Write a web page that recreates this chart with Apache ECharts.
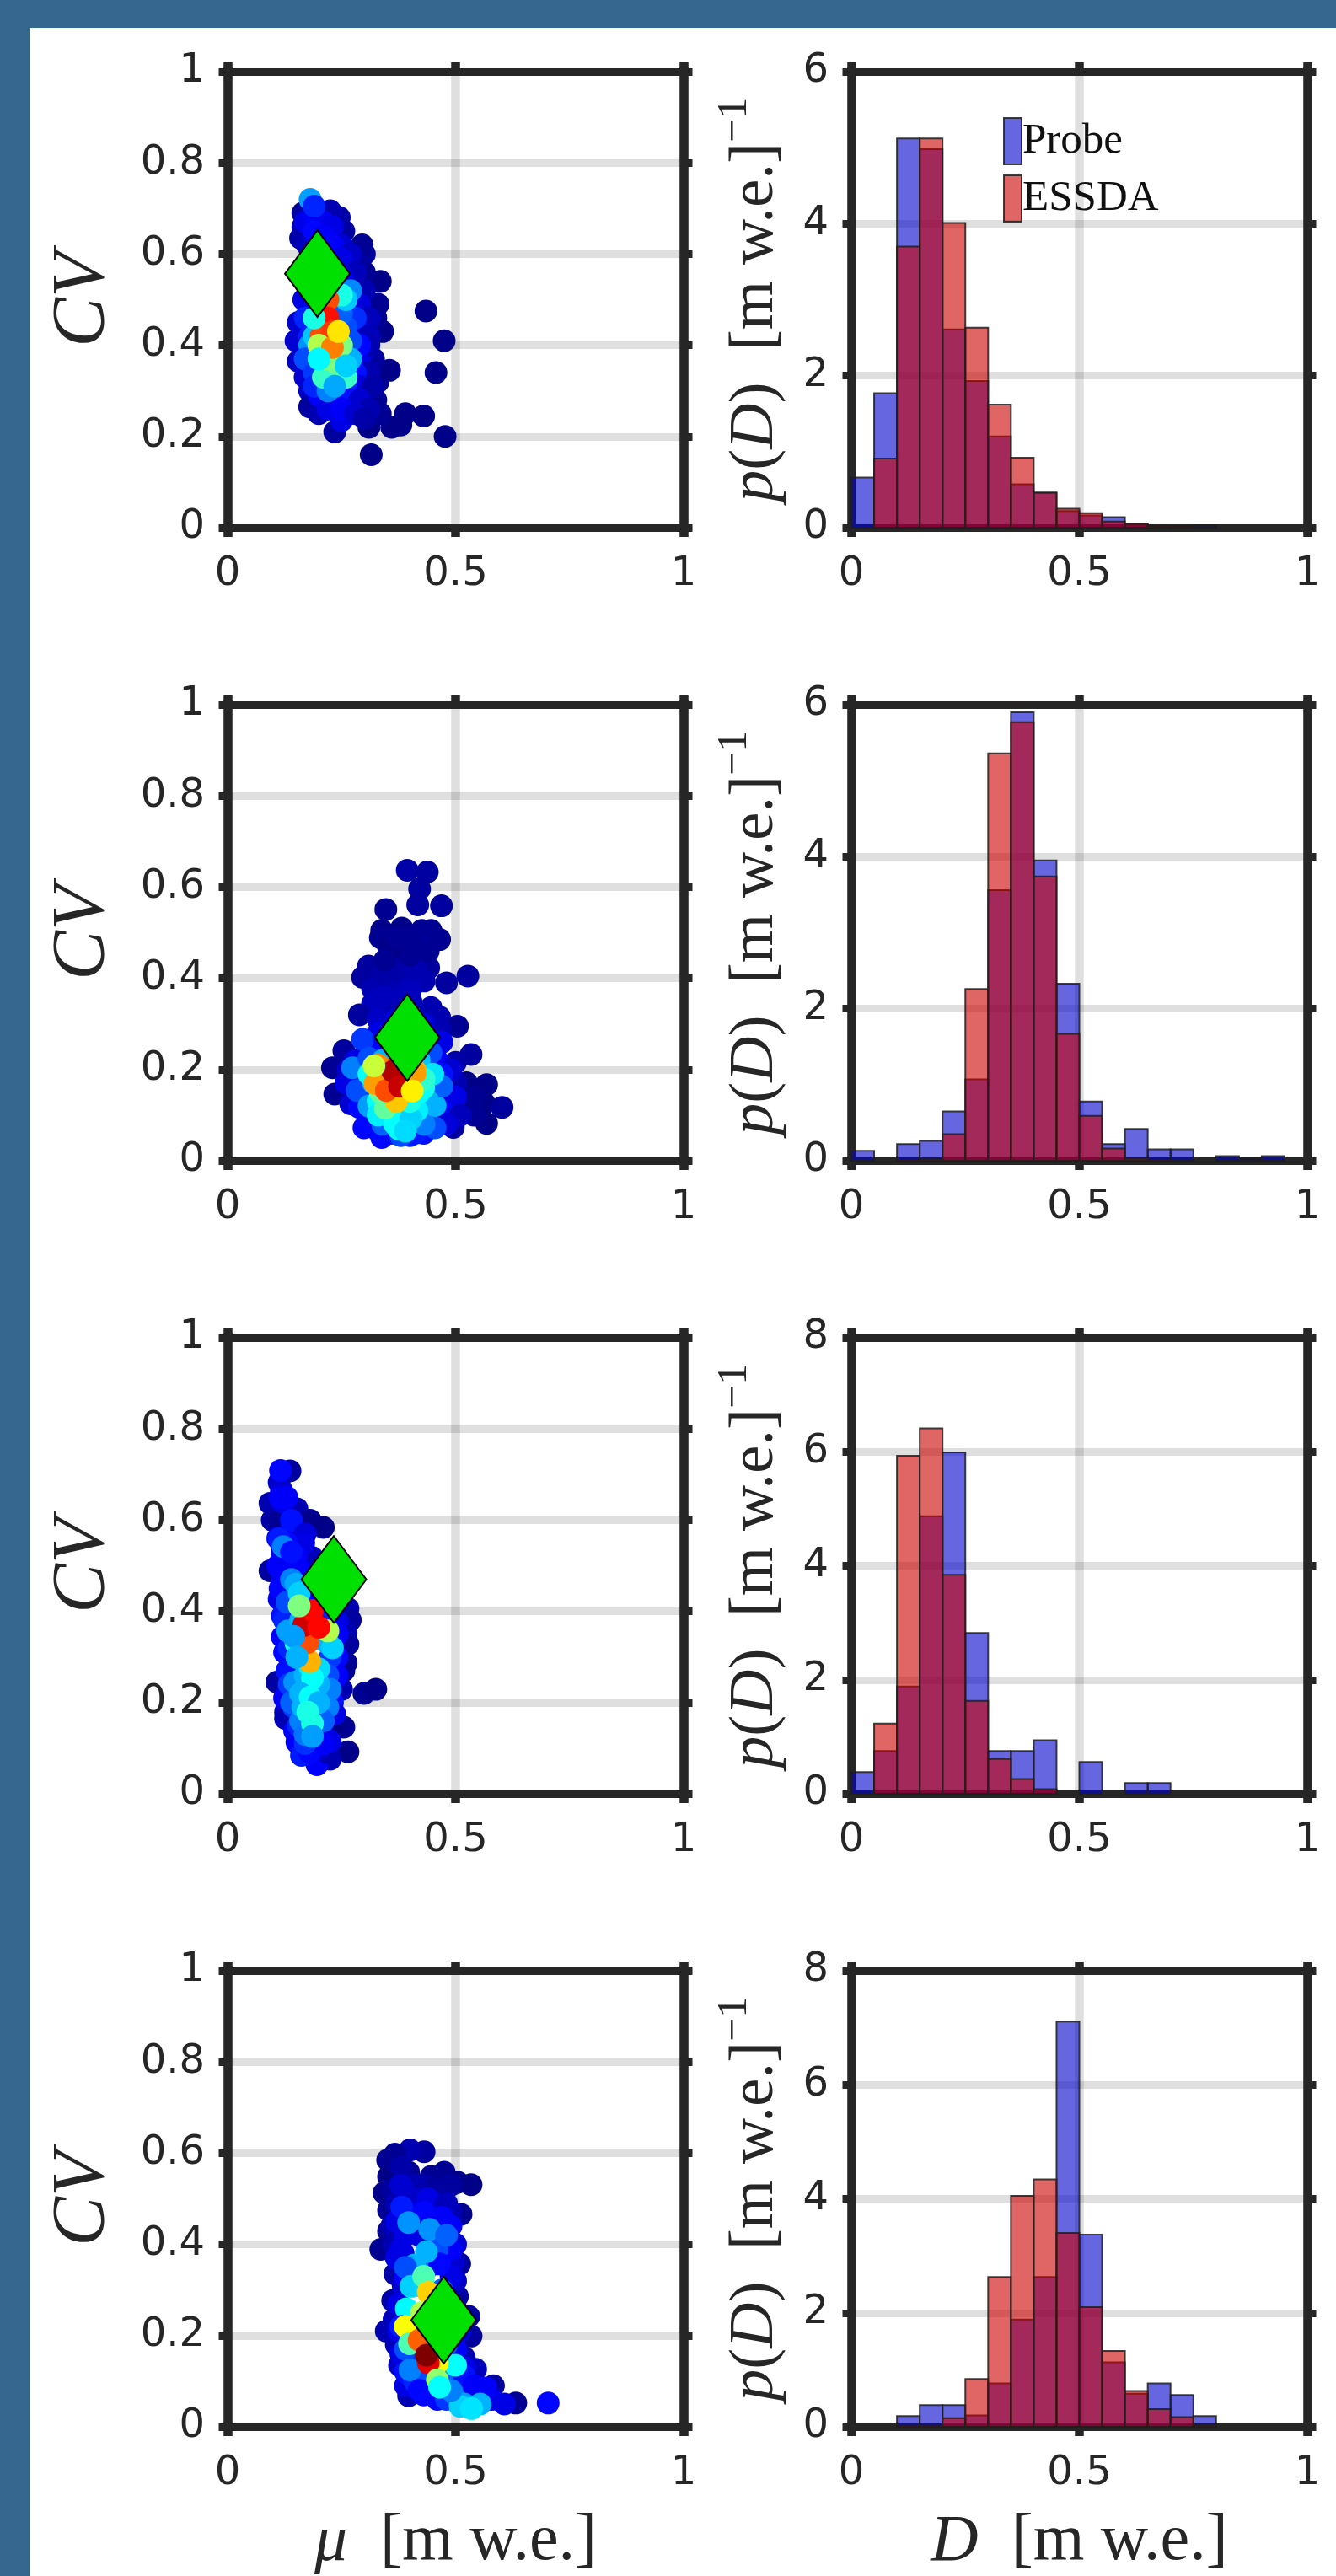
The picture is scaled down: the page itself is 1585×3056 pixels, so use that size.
<!DOCTYPE html>
<html><head><meta charset="utf-8">
<style>html,body{margin:0;padding:0;background:#fff}#c{width:1585px;height:3056px}</style>
<script src="https://cdn.jsdelivr.net/npm/echarts@6/dist/echarts.min.js"></script>
</head><body><div id="c"></div>
<script>
// [mu, CV, density]
const scatterA = [
[.435,.475,.01],[.475,.41,.01],[.457,.34,.01],[.477,.2,.01],[.315,.16,.01],[.43,.245,.01],[.39,.25,.01],[.36,.22,.01],[.38,.225,.01],[.31,.22,.01],[.235,.21,.03],
[.355,.345,.01],[.33,.32,.01],[.335,.54,.01],[.3,.56,.02],[.34,.43,.01],[.325,.46,.02],[.33,.49,.02],[.3,.6,.03],[.295,.62,.02],[.255,.65,.03],[.245,.68,.04],[.225,.695,.05],
[.165,.66,.04],[.16,.635,.04],[.165,.69,.03],[.18,.7,.04],[.175,.62,.06],[.167,.5,.1],[.155,.45,.08],[.15,.41,.08],[.155,.365,.07],[.17,.33,.08],[.18,.3,.07],[.18,.265,.03],[.2,.25,.05],[.25,.235,.1],[.335,.25,.02],[.325,.28,.02],[.32,.37,.03],
[.17,.67,.1],[.19,.68,.12],[.21,.67,.11],[.23,.66,.1],[.19,.65,.13],[.21,.64,.12],[.25,.62,.08],[.2,.62,.13],[.23,.62,.12],[.27,.6,.07],[.25,.59,.1],[.22,.59,.12],[.28,.56,.06],[.25,.55,.12],
[.3,.52,.05],[.27,.5,.12],[.29,.49,.09],[.31,.46,.06],[.29,.43,.09],[.31,.42,.06],[.3,.39,.09],[.31,.4,.05],[.27,.37,.13],[.29,.36,.1],[.31,.34,.05],[.28,.34,.14],[.29,.31,.09],[.32,.31,.04],[.26,.31,.15],[.23,.29,.14],[.26,.28,.14],[.29,.28,.08],[.31,.26,.05],
[.2,.33,.1],[.19,.37,.14],[.18,.42,.15],[.17,.46,.16],[.2,.29,.12],[.22,.26,.1],[.25,.26,.12],[.28,.25,.08],[.3,.24,.04],
[.181,.72,.28],[.19,.705,.16],[.28,.46,.17],[.29,.4,.13],[.26,.44,.2],[.27,.41,.2],[.27,.52,.26],[.25,.47,.22],[.18,.4,.27],[.17,.37,.2],[.19,.34,.18],[.19,.31,.16],[.24,.33,.24],[.22,.3,.25],
[.26,.5,.32],[.25,.51,.4],[.2,.47,.36],[.19,.42,.32],[.21,.33,.43],[.26,.33,.43],[.27,.37,.3],[.25,.4,.5],[.24,.36,.48],[.22,.37,.5],
[.22,.5,.8],[.22,.46,.86],[.205,.42,.8],[.23,.43,.82],[.2,.4,.55],[.23,.395,.75],[.243,.43,.65],[.19,.46,.4],[.2,.37,.37],[.26,.355,.33],[.235,.31,.29]
];
const scatterB = [
[.394,.637,.04],[.438,.633,.03],[.421,.596,.03],[.417,.561,.03],[.469,.559,.03],[.347,.551,.02],[.338,.505,.01],[.382,.51,.01],[.426,.505,.02],[.446,.505,.02],[.335,.489,.02],[.465,.485,.02],[.353,.468,.01],[.387,.476,.02],[.426,.468,.03],[.367,.452,.01],[.426,.448,.02],[.309,.427,.03],[.441,.423,.03],[.296,.402,.03],[.48,.39,.03],[.527,.405,.03],[.353,.406,.03],[.392,.41,.05],[.431,.394,.05],[.318,.377,.05],[.362,.377,.05],[.402,.377,.06],[.318,.344,.06],[.362,.344,.05],[.402,.35,.06],[.289,.32,.03],[.446,.336,.05],[.465,.315,.05],[.504,.295,.02],[.465,.29,.05],
[.34,.36,.06],[.385,.36,.06],[.34,.41,.04],[.37,.42,.04],[.41,.42,.05],[.345,.44,.02],[.4,.45,.02],[.37,.49,.02],[.405,.49,.02],[.44,.46,.02],
[.255,.241,.03],[.23,.204,.02],[.235,.146,.02],[.534,.233,.03],[.5,.216,.04],[.524,.171,.01],[.568,.167,.01],[.514,.121,.02],[.563,.126,.01],[.602,.117,.03],[.568,.082,.01],[.495,.073,.03],[.54,.14,.02],[.54,.1,.02],[.5,.17,.05],
[.33,.31,.07],[.37,.31,.09],[.43,.3,.09],[.33,.28,.1],[.47,.26,.1],[.46,.22,.12],[.49,.2,.08],[.48,.14,.12],[.49,.1,.09],[.265,.2,.08],[.26,.17,.1],[.27,.125,.08],
[.36,.29,.09],[.4,.3,.09],[.44,.27,.1],[.31,.25,.12],[.35,.25,.13],[.39,.24,.14],[.43,.24,.14],[.28,.22,.1],[.29,.19,.14],[.3,.14,.14],[.47,.19,.14],[.5,.14,.1],[.47,.11,.13],[.51,.1,.06],[.44,.09,.16],[.46,.08,.14],[.31,.09,.14],[.36,.06,.16],[.4,.055,.16],[.43,.06,.14],[.325,.07,.14],[.48,.08,.09],
[.296,.266,.18],[.338,.051,.13],[.299,.072,.13],[.289,.117,.13],[.284,.154,.2],[.274,.204,.25],[.31,.225,.2],[.411,.06,.15],[.455,.072,.2],[.38,.055,.2],[.34,.08,.22],[.431,.08,.25],[.455,.121,.3],[.47,.163,.22],[.446,.237,.2],[.44,.13,.3],[.31,.12,.28],[.32,.17,.3],
[.34,.22,.3],[.38,.22,.3],[.42,.22,.32],[.45,.19,.35],[.43,.16,.4],[.35,.1,.36],[.385,.1,.38],[.415,.11,.36],[.375,.07,.38],[.36,.13,.42],[.33,.13,.38],[.39,.17,.48],[.36,.17,.5],
[.33,.1,.36],[.367,.08,.38],[.402,.092,.33],[.39,.065,.34],[.37,.135,.42],[.4,.13,.4],[.42,.15,.38],[.431,.179,.42],[.31,.19,.38],[.33,.2,.4],[.346,.115,.47],[.335,.15,.47],
[.36,.2,.78],[.41,.2,.7],[.411,.192,.72],[.33,.21,.74],[.37,.13,.68],[.323,.169,.72],[.348,.154,.8],[.362,.196,.95],[.377,.163,.93],[.321,.208,.57],[.405,.153,.64]
];
const scatterC = [
[.137,.708,.03],[.113,.683,.07],[.118,.666,.08],[.093,.637,.05],[.098,.6,.04],[.113,.6,.02],[.152,.625,.05],[.181,.6,.02],[.21,.584,.01],[.186,.59,.01],[.093,.489,.03],[.186,.518,.06],[.19,.48,.06],[.2,.47,.08],[.113,.427,.1],[.264,.406,.05],[.269,.381,.03],[.26,.353,.05],[.264,.328,.03],[.26,.287,.02],[.255,.27,.02],[.25,.229,.05],[.108,.245,.03],[.299,.22,.02],[.325,.229,.01],[.127,.179,.07],[.127,.165,.05],[.255,.146,.02],[.235,.154,.01],[.264,.092,.01],[.225,.076,.05],[.196,.064,.12],[.22,.09,.05],[.12,.53,.1],[.14,.58,.1],
[.116,.709,.13],[.12,.64,.1],[.14,.6,.14],[.17,.57,.09],[.167,.55,.1],[.11,.56,.13],[.132,.501,.12],[.12,.48,.1],[.16,.49,.12],[.14,.45,.12],[.15,.43,.15],[.22,.41,.13],[.24,.38,.1],[.24,.35,.12],[.12,.39,.14],[.12,.344,.12],[.24,.3,.13],[.24,.26,.12],[.125,.31,.13],[.13,.27,.14],[.125,.21,.12],[.23,.2,.14],[.235,.175,.1],[.147,.138,.12],[.152,.113,.12],[.162,.084,.15],[.225,.115,.1],[.2,.1,.08],[.21,.13,.1],[.18,.09,.13],
[.115,.65,.12],[.13,.65,.12],[.13,.55,.13],[.15,.52,.12],[.11,.5,.12],[.17,.46,.12],[.19,.44,.12],[.115,.45,.13],[.125,.38,.16],[.21,.38,.16],[.22,.35,.18],[.135,.32,.16],[.225,.3,.18],[.135,.24,.18],[.22,.26,.2],[.145,.19,.18],[.21,.22,.2],[.21,.19,.2],[.155,.15,.16],[.19,.12,.16],[.21,.11,.12],[.17,.11,.17],
[.113,.559,.15],[.122,.542,.25],[.14,.53,.14],[.13,.42,.2],[.14,.47,.25],[.15,.46,.29],[.132,.357,.28],[.152,.299,.3],[.147,.245,.27],[.14,.2,.22],[.225,.229,.25],[.22,.19,.25],[.21,.16,.22],[.16,.16,.25],[.17,.13,.24],
[.16,.38,.3],[.2,.34,.32],[.17,.26,.3],[.17,.23,.3],[.2,.24,.3],[.165,.19,.3],
[.22,.33,.3],[.23,.32,.33],[.15,.33,.4],[.18,.28,.36],[.2,.274,.34],[.186,.254,.38],[.16,.22,.3],[.181,.212,.38],[.2,.2,.3],[.176,.179,.4],[.186,.154,.4],[.186,.126,.28],[.157,.44,.33],
[.22,.43,.66],[.22,.357,.55],[.18,.29,.7],[.176,.332,.8],[.167,.369,.92],[.186,.402,.87],[.2,.365,.87],[.157,.412,.5],[.145,.345,.28],[.152,.3,.3]
];
const scatterD = [
[.431,.603,.03],[.4,.607,.05],[.367,.598,.02],[.351,.585,.02],[.353,.549,.01],[.343,.513,.01],[.353,.475,.02],[.353,.429,.02],[.336,.389,.02],[.446,.549,.02],[.475,.558,.02],[.534,.531,.01],[.505,.536,.01],[.512,.466,.02],[.397,.558,.02],[.39,.52,.03],[.47,.52,.03],[.43,.53,.04],[.509,.357,.03],[.367,.335,.04],[.362,.277,.04],[.504,.286,.03],[.529,.242,.03],[.348,.21,.05],[.534,.199,.03],[.365,.235,.06],[.37,.18,.06],[.377,.135,.07],[.397,.068,.05],[.519,.152,.05],[.544,.126,.06],[.583,.09,.03],[.632,.052,.02],[.607,.05,.1],[.58,.06,.1],
[.38,.57,.04],[.36,.52,.03],[.45,.52,.03],[.49,.53,.03],[.41,.53,.05],[.37,.49,.05],[.41,.5,.07],[.45,.49,.07],[.49,.47,.05],[.36,.44,.05],[.38,.46,.07],[.42,.46,.09],[.47,.43,.08],[.365,.4,.05],[.385,.38,.08],[.42,.42,.1],[.5,.4,.08],[.495,.36,.08],[.385,.31,.08],[.485,.3,.08],[.375,.27,.1],[.49,.26,.1],[.375,.21,.1],[.51,.24,.09],[.38,.16,.1],[.39,.09,.1],[.5,.1,.1],[.52,.13,.1],[.55,.06,.1],
[.38,.53,.08],[.44,.5,.1],[.48,.49,.06],[.41,.47,.1],[.37,.45,.1],[.39,.42,.1],[.38,.39,.1],[.49,.39,.12],[.49,.44,.12],[.37,.37,.1],[.39,.33,.12],[.5,.32,.07],[.49,.33,.1],[.5,.26,.1],[.51,.21,.08],[.5,.17,.12],[.39,.12,.14],[.43,.07,.13],[.46,.06,.13],
[.41,.1,.16],[.43,.12,.16],[.44,.1,.2],[.48,.06,.18],[.48,.11,.22],[.5,.08,.2],[.5,.07,.24],[.41,.16,.18],[.39,.17,.2],[.4,.21,.2],[.48,.18,.22],[.47,.22,.22],[.47,.3,.22],[.46,.39,.2],[.42,.31,.2],[.44,.35,.24],
[.703,.052,.13],[.382,.482,.15],[.43,.47,.13],[.47,.46,.12],[.397,.448,.27],[.443,.433,.27],[.48,.42,.22],[.465,.357,.13],[.436,.384,.3],[.41,.355,.3],[.39,.35,.2],[.402,.308,.33],[.392,.259,.37],[.38,.22,.15],[.4,.125,.25],[.42,.08,.13],[.519,.112,.14],[.54,.09,.12],[.567,.085,.12],[.519,.05,.28],[.554,.05,.3],[.51,.045,.33],[.49,.08,.25],[.535,.04,.35],
[.43,.33,.45],[.44,.295,.67],[.425,.25,.55],[.39,.22,.62],[.399,.182,.45],[.42,.19,.78],[.45,.16,.38],[.5,.135,.38],[.46,.14,.63],[.44,.14,.9],[.436,.157,1],[.46,.103,.52],[.465,.087,.38]
];
const centroidA = [[.197,.557]], centroidB = [[.394,.27]], centroidC = [[.233,.47]], centroidD = [[.474,.234]];

const binEdges = [0,.05,.1,.15,.2,.25,.3,.35,.4,.45,.5,.55,.6,.65,.7,.75,.8,.85,.9,.95,1];
const probeA = [.66,1.77,5.12,4.98,2.61,1.93,1.2,.57,.46,.22,.16,.14,.05,.015,.02,.03,0,0,0,0];
const essdaA = [0,.91,3.7,5.12,4.01,2.63,1.62,.92,.46,.25,.19,.08,.05,.02,.02,.01,0,0,0,0];
const probeB = [.13,0,.22,.26,.65,1.07,3.56,5.9,3.95,2.33,.78,.22,.42,.15,.15,0,.06,.03,.06,0];
const essdaB = [0,0,.01,.02,.35,2.26,5.36,5.77,3.74,1.67,.59,.16,.03,.01,0,0,0,0,0,0];
const probeC = [.38,.75,1.88,4.87,5.99,2.82,.75,.75,.94,0,.56,0,.19,.19,0,0,0,0,0,0];
const essdaC = [0,1.23,5.93,6.41,3.84,1.63,.61,.26,.08,0,0,0,0,0,0,0,0,0,0,0];
const probeD = [0,0,.19,.38,.38,.2,.76,1.88,2.63,7.11,3.37,1.13,.58,.76,.56,.19,0,0,0,0];
const essdaD = [0,0,.02,.02,.15,.84,2.63,4.05,4.34,3.4,2.1,1.33,.63,.31,.17,.03,0,0,0,0];
const histMax = [6,6,8,8];

const rowTops = [85,836,1587,2338];
const panelSize = 541;
const leftX = 270, rightX = 1010;
const INK = '#262626';
const jet = ['#00007f','#0000ff','#007fff','#00ffff','#7fff7f','#ffff00','#ff7f00','#ff0000','#7f0000'];
const scatters = [scatterA,scatterB,scatterC,scatterD];
const centroids = [centroidA,centroidB,centroidC,centroidD];
const probes = [probeA,probeB,probeC,probeD];
const essdas = [essdaA,essdaB,essdaC,essdaD];

const grids=[], xAxes=[], yAxes=[], series=[], scatterIdx=[];
const richY = {
  i:{fontFamily:'Liberation Serif',fontStyle:'italic',fontSize:75,lineHeight:98,color:INK},
  r:{fontFamily:'Liberation Serif',fontSize:75,lineHeight:98,color:INK},
  s:{fontFamily:'Liberation Serif',fontSize:50,lineHeight:50,color:INK,verticalAlign:'top'}
};
const richX = {
  i:{fontFamily:'Liberation Serif',fontStyle:'italic',fontSize:78,color:INK},
  r:{fontFamily:'Liberation Serif',fontSize:78,color:INK}
};
function addAxes(gi,yMax,yInt,isBottom,yName,yGap,xName,yRich){
  const lbl={fontFamily:'DejaVu Sans',fontSize:48,color:INK};
  const base=(o)=>Object.assign({gridIndex:gi,type:'value',min:0,
    axisLine:{show:true,onZero:false,lineStyle:{color:INK}},
    axisTick:{show:true,inside:false},minorTick:{show:false}},o);
  const xTick={show:true,length:11,lineStyle:{color:INK,width:10.5}};
  const yTick={show:true,length:10.5,lineStyle:{color:INK,width:9}};
  xAxes.push(base({position:'bottom',max:1,interval:.5,axisTick:xTick,
    axisLine:{show:true,onZero:false,lineStyle:{color:INK,width:9,cap:'square'}},
    axisLabel:Object.assign({margin:32,hideOverlap:false,showMinLabel:true,showMaxLabel:true},lbl),
    splitLine:{show:true,lineStyle:{color:'rgba(38,38,38,0.15)',width:10.5}},
    name:xName||'',nameLocation:'middle',nameGap:98,nameTextStyle:{rich:richX}}));
  xAxes.push(base({position:'top',max:1,interval:.5,axisTick:xTick,
    axisLine:{show:true,onZero:false,lineStyle:{color:INK,width:9,cap:'square'}},
    axisLabel:{show:false},splitLine:{show:false}}));
  yAxes.push(base({position:'left',max:yMax,interval:yInt,axisTick:yTick,
    axisLine:{show:true,onZero:false,lineStyle:{color:INK,width:10.5,cap:'square'}},
    axisLabel:Object.assign({margin:27,padding:[11,0,0,0],showMinLabel:true,showMaxLabel:true},lbl),
    splitLine:{show:true,lineStyle:{color:'rgba(38,38,38,0.15)',width:9}},
    name:yName,nameLocation:'middle',nameRotate:90,nameGap:yGap,nameTextStyle:{rich:yRich}}));
  yAxes.push(base({position:'right',max:yMax,interval:yInt,axisTick:yTick,
    axisLine:{show:true,onZero:false,lineStyle:{color:INK,width:10.5,cap:'square'}},
    axisLabel:{show:false},splitLine:{show:false}}));
}
const richCV={c:{fontFamily:'Liberation Serif',fontStyle:'italic',fontSize:88,color:INK}};
function renderBar(fill){
  return function(params,api){
    const v=api.value(2);
    if(!(v>0)) return null;
    const a=api.coord([api.value(0),0]), b=api.coord([api.value(1),v]);
    return {type:'rect',shape:{x:a[0],y:b[1],width:b[0]-a[0],height:a[1]-b[1]},
      style:{fill:fill,stroke:'rgba(30,30,30,0.85)',lineWidth:2}};
  };
}
let gi=0;
rowTops.forEach((top,r)=>{
  grids.push({left:leftX,top:top,width:panelSize,height:panelSize,outerBoundsMode:'none'});
  addAxes(gi,1,.2,r===3,'{c|CV}',127,r===3?'{i|μ}{r|  [m w.e.]}':'',richCV);
  const xi=gi*2, yi=gi*2;
  scatterIdx.push(series.length);
  series.push({type:'scatter',xAxisIndex:xi,yAxisIndex:yi,data:scatters[r],symbol:'circle',symbolSize:27,
    encode:{x:0,y:1},itemStyle:{opacity:1},silent:true,z:3,clip:false});
  series.push({type:'scatter',name:'mean',xAxisIndex:xi,yAxisIndex:yi,data:centroids[r],symbol:'diamond',symbolSize:[77,103],
    itemStyle:{color:'#00e000',borderColor:'#000',borderWidth:2,opacity:1},silent:true,z:4,clip:false});
  gi++;
  grids.push({left:rightX,top:top,width:panelSize,height:panelSize,outerBoundsMode:'none'});
  addAxes(gi,histMax[r],2,r===3,'{i|p}{r|(}{i|D}{r|)  [m w.e.]}{s|−1}',65,r===3?'{i|D}{r|  [m w.e.]}':'',richY);
  const xj=gi*2,yj=gi*2;
  [['Probe',probes[r],'rgba(0,0,203,0.6)'],['ESSDA',essdas[r],'rgba(203,0,0,0.6)']].forEach(([name,vals,fill])=>{
    series.push({type:'custom',name:name,xAxisIndex:xj,yAxisIndex:yj,
      data:vals.map((v,i)=>[binEdges[i],binEdges[i+1],v]),
      encode:{x:[0,1],y:2},renderItem:renderBar(fill),
      itemStyle:{color:fill,borderColor:'rgba(30,30,30,0.85)',borderWidth:2},silent:true,z:3});
  });
  gi++;
});
const chart=echarts.init(document.getElementById('c'),null,{renderer:'canvas'});
chart.setOption({
  animation:false,backgroundColor:'#fff',
  graphic:[
    {type:'rect',shape:{x:0,y:0,width:1585,height:33},style:{fill:'#36688f'},silent:true},
    {type:'rect',shape:{x:0,y:0,width:35,height:3056},style:{fill:'#36688f'},silent:true}
  ],
  grid:grids,xAxis:xAxes,yAxis:yAxes,series:series,
  visualMap:{show:false,type:'continuous',seriesIndex:scatterIdx,dimension:2,min:0,max:1,inRange:{color:jet}},
  legend:{show:true,orient:'vertical',left:1190,top:139,padding:0,data:['Probe','ESSDA'],icon:'rect',itemWidth:21,itemHeight:55,itemGap:11,
    textStyle:{fontFamily:'Liberation Serif',fontSize:51,color:'#111',padding:[0,0,0,-4]},selectedMode:false,
    itemStyle:{borderColor:'rgba(30,30,30,0.85)',borderWidth:2}},
  tooltip:{show:false}
});
</script></body></html>
